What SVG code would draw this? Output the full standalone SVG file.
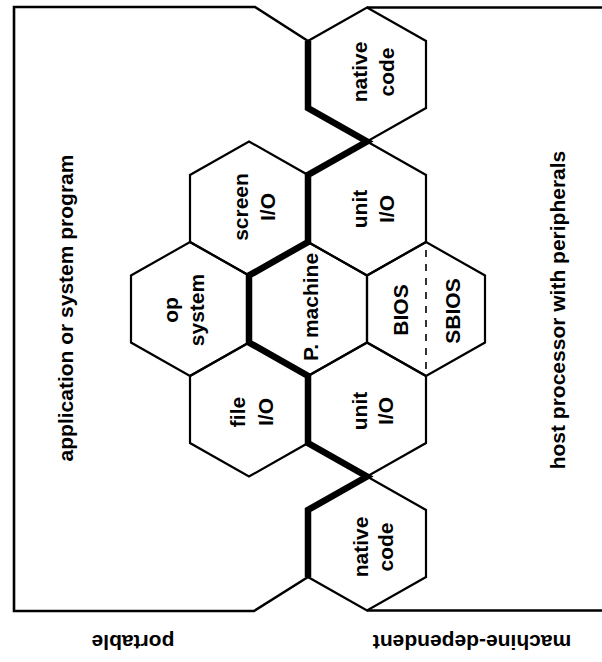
<svg xmlns="http://www.w3.org/2000/svg" width="602" height="662" viewBox="0 0 602 662">
<style>
.hex{fill:none;stroke:#000;stroke-width:2.2;stroke-linejoin:miter}
.frame{fill:none;stroke:#000;stroke-width:2.6}
.thick{fill:none;stroke:#000;stroke-width:6.5;stroke-linejoin:miter}
.dash{stroke:#000;stroke-width:1.6;stroke-dasharray:7 7}
text{font-family:"Liberation Sans",Arial,sans-serif;font-weight:bold;font-size:21px;fill:#000;text-anchor:middle}
</style>
<rect width="602" height="662" fill="#fff"/>
<g id="frame">
<path class="frame" d="M308,41 L255,7 H14 V611 H254 L308,577"/>
<path class="frame" d="M367,7.5 H602"/>
<path class="frame" d="M367,610.5 H602"/>
</g>
<g id="native-code-top">
<polygon class="hex" points="367,7.5 426,41 426,108 367,141.5 308,108 308,41"/>
<text transform="translate(367,72) rotate(-90)">native</text>
<text transform="translate(394,72) rotate(-90)">code</text>
</g>
<g id="unit-io-top">
<polygon class="hex" points="367,141.5 426,175 426,242 367,275.5 308,242 308,175"/>
<text transform="translate(367,209) rotate(-90)">unit</text>
<text transform="translate(394,209) rotate(-90)">I/O</text>
</g>
<g id="screen-io">
<polygon class="hex" points="249,141.5 308,175 308,242 249,275.5 190,242 190,175"/>
<text transform="translate(248,207) rotate(-90)">screen</text>
<text transform="translate(275,207) rotate(-90)">I/O</text>
</g>
<g id="op-system">
<polygon class="hex" points="190,242 249,275.5 249,342.5 190,376 131,342.5 131,275.5"/>
<text transform="translate(178,310) rotate(-90)">op</text>
<text transform="translate(204,310) rotate(-90)">system</text>
</g>
<g id="p-machine">
<polygon class="hex" points="308,242 367,275.5 367,342.5 308,376 249,342.5 249,275.5"/>
<text transform="translate(318,307) rotate(-90)">P. machine</text>
</g>
<g id="bios">
<polygon class="hex" points="426,242 485,275.5 485,342.5 426,376 367,342.5 367,275.5"/>
<line class="dash" x1="426" y1="250" x2="426" y2="370"/>
<text transform="translate(408,310) rotate(-90)">BIOS</text>
<text transform="translate(460,311) rotate(-90)">SBIOS</text>
</g>
<g id="file-io">
<polygon class="hex" points="249,342.5 308,376 308,443 249,476.5 190,443 190,376"/>
<text transform="translate(245,412) rotate(-90)">file</text>
<text transform="translate(273,412) rotate(-90)">I/O</text>
</g>
<g id="unit-io-bottom">
<polygon class="hex" points="367,342.5 426,376 426,443 367,476.5 308,443 308,376"/>
<text transform="translate(367,411) rotate(-90)">unit</text>
<text transform="translate(393,411) rotate(-90)">I/O</text>
</g>
<g id="native-code-bottom">
<polygon class="hex" points="367,476.5 426,510 426,577 367,610.5 308,577 308,510"/>
<text transform="translate(368,547) rotate(-90)">native</text>
<text transform="translate(393,547) rotate(-90)">code</text>
</g>
<g id="connectors">
<path class="thick" d="M308,41 V108 L367,141.5 L308,175 V242 L249,275.5 V342.5 L308,376 V443 L367,476.5 L308,510 V577"/>
</g>
<g id="labels">
<text transform="translate(73,308) rotate(-90)">application or system program</text>
<text transform="translate(565,310) rotate(-90)">host processor with peripherals</text>
<text transform="translate(133,635) rotate(180)">portable</text>
<text transform="translate(472,635) rotate(180)">machine-dependent</text>
</g>
</svg>
